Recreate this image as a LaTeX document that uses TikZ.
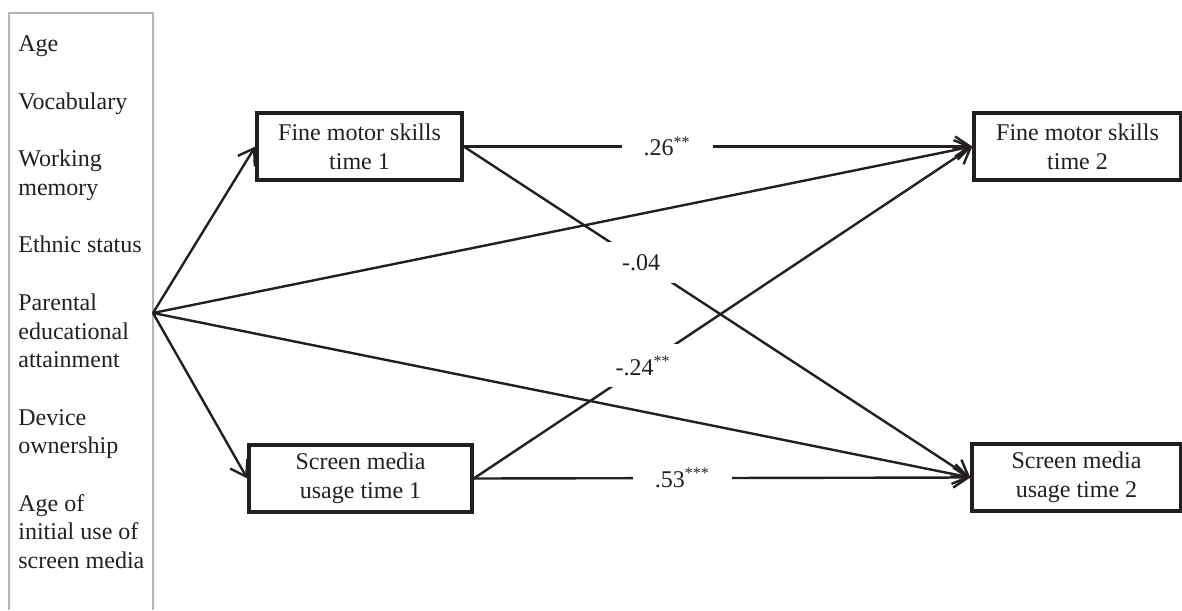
\documentclass[tikz,border=0pt]{standalone}
\usepackage{fontspec}
\setmainfont{Liberation Serif}
\usetikzlibrary{calc,positioning,arrows.meta}
\definecolor{ink}{HTML}{231F20}
\definecolor{framegray}{HTML}{B4B5B8}

\begin{document}
\begin{tikzpicture}[
  x=0.5pt,y=-0.5pt,
  color=ink,
  font=\fontsize{12}{14.35}\selectfont,
  var/.style={rectangle,draw=ink,line width=1.7pt,minimum height=33.5pt,align=center,inner sep=0pt},
  effect/.style={line width=1.2pt,-{Straight Barb[length=7.5pt,width=10pt,line width=1.2pt]}},
  coef/.style={fill=white,inner xsep=11pt,inner ysep=6pt},
  ]
  \useasboundingbox (0,0) rectangle (1182,610);

  %covariates
  \draw[framegray,line width=1.3pt] (9,610) -- (9,13) -- (153,13) -- (153,610);
  \foreach \txt/\row in {Age/0,Vocabulary/2,Working/4,memory/5,Ethnic status/7,Parental/9,educational/10,attainment/11,Device/13,ownership/14,Age of/16,initial use of/17,screen media/18}
   {
     \node (cov_\row) [anchor=base west,inner sep=0pt] at (18,52+28.7*\row) {\txt};
   }
  \coordinate (hub) at (153,313);

  %time 1
  \node (fm1) [var,minimum width=102.5pt] at (359.5,146.5) {Fine motor skills\\time 1};
  \node (sm1) [var,minimum width=111.5pt] at (360.5,478.5) {Screen media\\usage time 1};

  %time 2
  \node (fm2) [var,minimum width=103.5pt] at (1077.5,146.5) {Fine motor skills\\time 2};
  \node (sm2) [var,minimum width=104.5pt] at (1076.5,477.5) {Screen media\\usage time 2};

  %covariate paths
  \draw[effect] (hub) -- (fm1.west);
  \draw[effect] (hub) -- (sm1.west);
  \draw[effect] (hub) -- (fm2.west);
  \draw[effect] (hub) -- (sm2.west);

  %stability and cross-lagged paths
  \draw[effect] (fm1.east) -- node (b_fm) [coef,pos=.40] {.26\textsuperscript{**}} (fm2.west);
  \draw[effect] (sm1.east) -- node (b_sm) [coef,pos=.42] {.53\textsuperscript{***}} (sm2.west);
  \draw[effect] (fm1.east) -- node (b_fmsm) [coef,pos=.35] {-.04} (sm2.west);
  \draw[effect] (sm1.east) -- node (b_smfm) [coef,pos=.34] {-.24\textsuperscript{**}} (fm2.west);

\end{tikzpicture}
\end{document}
